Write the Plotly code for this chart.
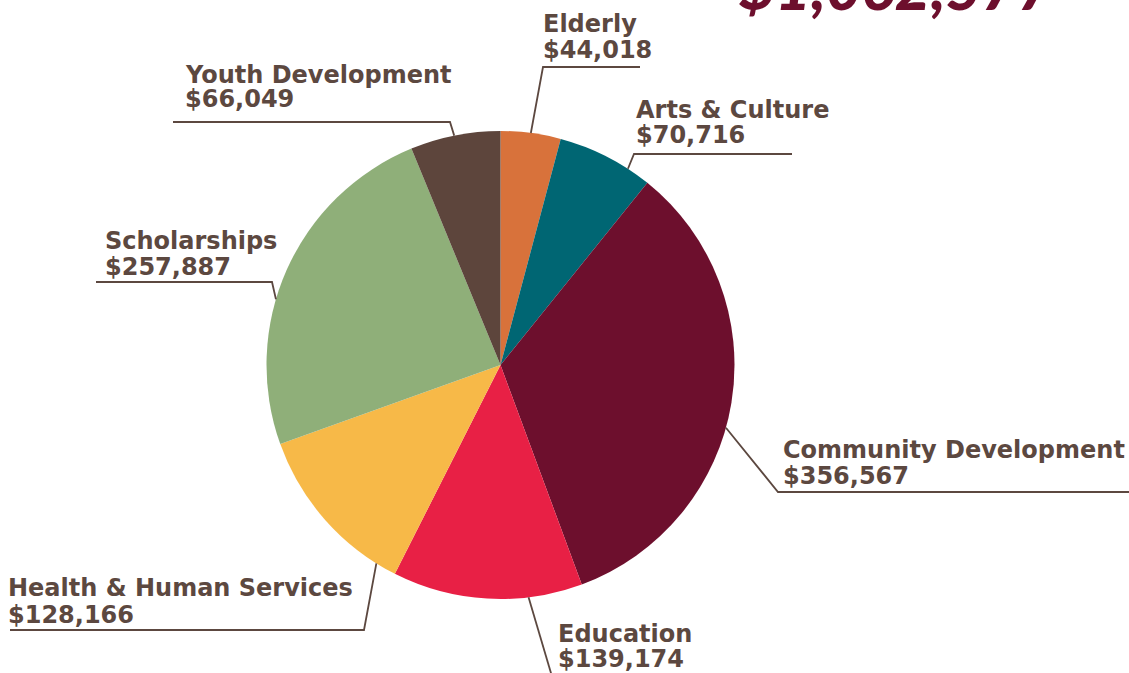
import math
import plotly.graph_objects as go

# Grant totals by program area
categories = ["Elderly", "Arts & Culture", "Community Development", "Education",
              "Health & Human Services", "Scholarships", "Youth Development"]
amounts = [44018, 70716, 356567, 139174, 128166, 257887, 66049]
colors = ["#D8723B", "#006673", "#6D0F2D", "#E82045", "#F7B948", "#8FAF79", "#5D453C"]

W, H = 1129, 673
TEXT = "#5C4840"
CX, CY, R = 500.5, 365.0, 234.0  # pie centre / radius in pixels

# Per-label callout layout: where on the slice arc the leader starts (fraction of
# the slice), elbow point, end of the horizontal rule, text left edge and baselines.
callouts = {
    "Elderly":                 dict(f=0.50, elbow=(543, 67),  end=(640, 67),   tx=543, b1=32,  b2=58),
    "Arts & Culture":          dict(f=0.755, elbow=(634, 154), end=(792, 154),  tx=636, b1=118, b2=143),
    "Community Development":   dict(f=0.552, elbow=(778, 492), end=(1129, 492), tx=783, b1=458, b2=484),
    "Education":               dict(f=0.285, elbow=(556, 690), end=(556, 690),  tx=558, b1=642, b2=667),
    "Health & Human Services": dict(f=0.12, elbow=(364, 630), end=(10, 630),   tx=8,   b1=596, b2=623),
    "Scholarships":            dict(f=0.413, elbow=(272, 282), end=(96, 282),   tx=105, b1=249, b2=275),
    "Youth Development":       dict(f=0.49, elbow=(450, 122), end=(173, 122),  tx=185, b1=83,  b2=107),
}


def px(x):
    return x / W


def py(y):
    return 1 - y / H


total = sum(amounts)

fig = go.Figure(go.Pie(
    labels=categories,
    values=amounts,
    sort=False,
    direction="clockwise",
    rotation=0,
    marker=dict(colors=colors, line=dict(width=0)),
    textinfo="none",
    hoverinfo="label+value",
    showlegend=False,
    domain=dict(x=[px(CX - R), px(CX + R)], y=[py(CY + R), py(CY - R)]),
))

FS = 24
FONT = "DejaVu Sans"
MID = 0.346  # baseline-to-box-centre offset, in em
shapes = []
annotations = []
cum = 0
for name, val in zip(categories, amounts):
    c = callouts[name]
    ang = math.radians((cum + c["f"] * val) / total * 360)
    cum += val
    sx = CX + R * math.sin(ang)
    sy = CY - R * math.cos(ang)
    ex, ey = c["elbow"]
    fx, fy = c["end"]
    path = f"M {px(sx)},{py(sy)} L {px(ex)},{py(ey)} L {px(fx)},{py(fy)}"
    shapes.append(dict(type="path", xref="paper", yref="paper", path=path,
                       line=dict(color=TEXT, width=1.8)))
    for txt, base in ((name, c["b1"]), (f"${val:,}", c["b2"])):
        annotations.append(dict(
            text=txt, xref="paper", yref="paper",
            x=px(c["tx"] - 2), y=py(base - MID * FS),
            xanchor="left", yanchor="middle", showarrow=False,
            font=dict(family=FONT, size=FS, color=TEXT, weight=700),
        ))

# Overall total, set high so only its lower part shows
annotations.append(dict(
    text=f"${total:,}", xref="paper", yref="paper",
    x=px(737), y=py(10 - 0.387 * 62),
    xanchor="left", yanchor="middle", showarrow=False,
    font=dict(family="Lato", size=62, color="#6D0F2D", weight=900, style="italic"),
))

fig.update_layout(
    width=W, height=H,
    margin=dict(l=0, r=0, t=0, b=0),
    paper_bgcolor="white", plot_bgcolor="white",
    shapes=shapes, annotations=annotations,
)

fig.write_html("out.html")
